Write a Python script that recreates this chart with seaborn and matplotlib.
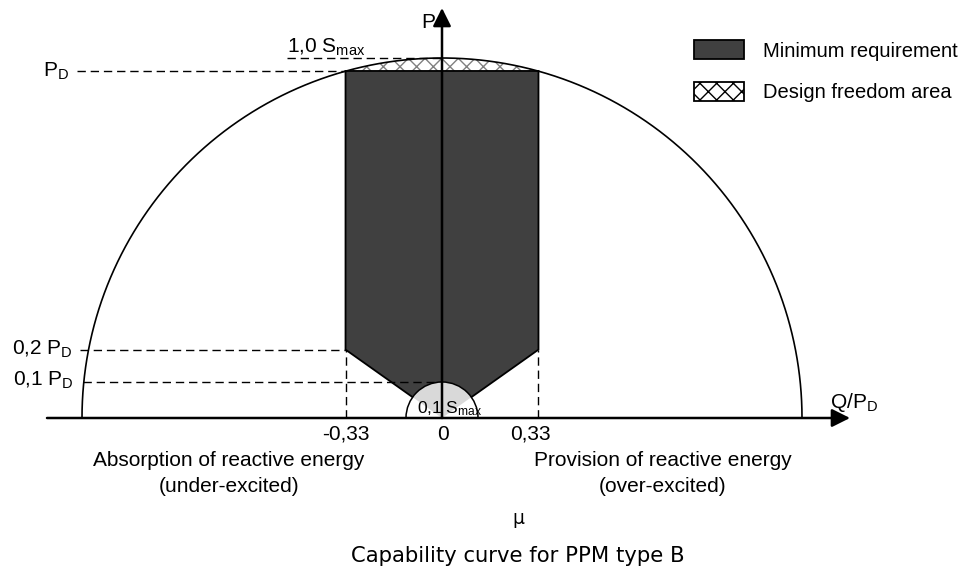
"""Capability curve for PPM type B (schematic)."""

import matplotlib
matplotlib.use("Agg")
import matplotlib.pyplot as plt
import numpy as np
import seaborn as sns
from matplotlib.patches import Patch, Polygon, Wedge

# --- values, in units of S_max -------------------------------------------
S_MAX = 1.0          # outer capability circle
P_D = 0.964          # maximum active power P_D
Q_LIMIT = 0.268      # position of Q/P_D = +-0.33
P_KNEE = 0.19        # 0,2 P_D
S_MIN = 0.1          # 0,1 S_max circle / 0,1 P_D

q_ticks = [-Q_LIMIT, 0.0, Q_LIMIT]
q_tick_labels = ["-0,33", "0", "0,33"]
legend_labels = ["Minimum requirement", "Design freedom area"]

W, H = 970, 571
DARK = "#404040"
LIGHT = "#d9d9d9"

sns.set_theme(style="white")
plt.rcParams["text.color"] = "black"
plt.rcParams["mathtext.fontset"] = "custom"
plt.rcParams["mathtext.rm"] = "Liberation Sans"
plt.rcParams["mathtext.it"] = "Liberation Sans"
plt.rcParams["hatch.color"] = "#808080"
plt.rcParams["hatch.linewidth"] = 1.0
ARIAL = "Liberation Sans"

fig = plt.figure(figsize=(W / 100, H / 100), dpi=100)
ax = fig.add_axes([0, 0, 1, 1])
# origin of the diagram at pixel (442, 418), 360 px per S_max
ax.set_xlim(-442 / 360, (W - 442) / 360)
ax.set_ylim(-(H - 418) / 360, 418 / 360)
ax.set_axis_off()


def fxy(x, y):
    return x / W, 1 - y / H


# outer semicircle
theta = np.linspace(0, np.pi, 400)
sns.lineplot(x=S_MAX * np.cos(theta), y=S_MAX * np.sin(theta), sort=False,
             color="black", lw=1.2, ax=ax, zorder=4)

# design freedom area between P_D and the circle
xc = np.sqrt(S_MAX**2 - P_D**2)
xs = np.linspace(-xc, xc, 200)
ax.fill_between(xs, P_D, np.sqrt(S_MAX**2 - xs**2), facecolor="white",
                edgecolor="#808080", hatch="xx", linewidth=0, zorder=2)

# minimum requirement polygon
req = [(-Q_LIMIT, P_D), (Q_LIMIT, P_D), (Q_LIMIT, P_KNEE), (0, 0), (-Q_LIMIT, P_KNEE)]
ax.add_patch(Polygon(req, closed=True, facecolor=DARK, edgecolor="black", lw=1.3, zorder=3))

# small 0,1 S_max circle
small = Wedge((0, 0), S_MIN, 0, 180, facecolor="white", edgecolor="none", zorder=5)
ax.add_patch(small)
inner = Polygon(req, closed=True, facecolor=LIGHT, edgecolor="none", zorder=6)
ax.add_patch(inner)
inner.set_clip_path(small)
ax.add_patch(Wedge((0, 0), S_MIN, 0, 180, facecolor="none", edgecolor="black", lw=1.1, zorder=7))

# dashed guide lines
dash = dict(color="black", lw=1.0, dashes=(6, 3.5), zorder=3)
ax.plot([-1.014, -Q_LIMIT], [P_D, P_D], **dash)
ax.plot([-0.43, 0], [S_MAX, S_MAX], **dash)
ax.plot([-1.006, -Q_LIMIT], [P_KNEE, P_KNEE], **dash)
ax.plot([-0.997, 0], [S_MIN, S_MIN], **dash)
for q in (-Q_LIMIT, Q_LIMIT):
    ax.plot([q, q], [0, P_KNEE], **dash)

# axes with arrows
arrow = dict(arrowstyle="-|>,head_length=1.0,head_width=0.5", color="black",
             lw=1.8, mutation_scale=11, shrinkA=0, shrinkB=0)
ax.annotate("", xy=(408 / 360, 0), xytext=(-395 / 360, 0), arrowprops=arrow, zorder=8)
ax.annotate("", xy=(0, 410 / 360), xytext=(0, 0), arrowprops=arrow, zorder=8)

# labels
fs = 15
def label(x, y, s, ha="left", va="baseline", size=fs, family=ARIAL):
    fig.text(*fxy(x, y), s, ha=ha, va=va, fontsize=size, family=family, color="black")

label(421, 28, "P")
label(830, 408, r"Q/P$_{\mathrm{D}}$")
label(287, 53, r"1,0 S$_{\mathrm{max}}$")
label(43, 77, r"P$_{\mathrm{D}}$")
label(12, 355, r"0,2 P$_{\mathrm{D}}$")
label(13, 386, r"0,1 P$_{\mathrm{D}}$")
label(417, 413, r"0,1 S$_{\mathrm{max}}$", size=12.5)

tick_px = [346, 443, 530]
for px, txt in zip(tick_px, q_tick_labels):
    label(px, 440, txt, ha="center")

label(229, 460, "Absorption of reactive energy", ha="center", va="center")
label(229, 487, "(under-excited)", ha="center", va="center")
label(663, 460, "Provision of reactive energy", ha="center", va="center")
label(663, 487, "(over-excited)", ha="center", va="center")
label(518, 518, "μ", ha="center", va="center", size=13.5, family="DejaVu Sans")
label(518, 556, "Capability curve for PPM type B", ha="center", va="center",
      size=15.2, family="DejaVu Sans")

handles = [Patch(facecolor=DARK, edgecolor="black", lw=1.3),
           Patch(facecolor="white", edgecolor="#808080", hatch="xx", lw=1.3)]
leg = ax.legend(handles, legend_labels, loc="upper left", frameon=False,
                bbox_to_anchor=fxy(694, 40), bbox_transform=fig.transFigure,
                borderpad=0, borderaxespad=0, handlelength=2.5, handleheight=1.1,
                handletextpad=0.95, labelspacing=1.05,
                prop=dict(family=ARIAL, size=14.5))
leg.legend_handles[1].set_edgecolor("black")
for t in leg.get_texts():
    t.set_color("black")

fig.savefig("out.png", dpi=100)
